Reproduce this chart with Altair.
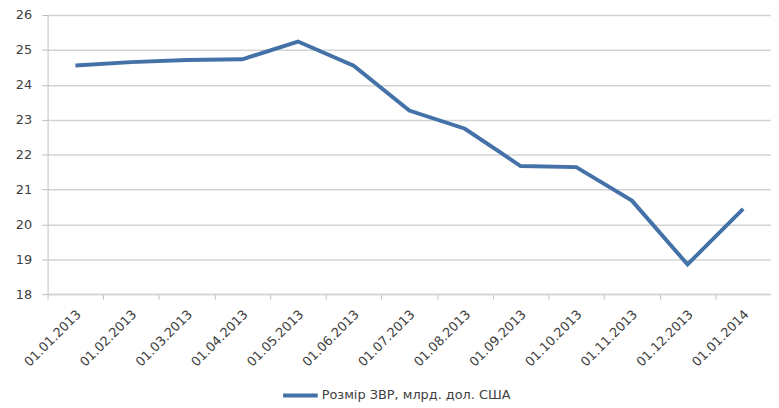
import altair as alt
import pandas as pd

dates = ["01.01.2013", "01.02.2013", "01.03.2013", "01.04.2013", "01.05.2013",
         "01.06.2013", "01.07.2013", "01.08.2013", "01.09.2013", "01.10.2013",
         "01.11.2013", "01.12.2013", "01.01.2014"]
values = [24.55, 24.65, 24.71, 24.73, 25.24, 24.55, 23.26, 22.74, 21.67, 21.64,
          20.68, 18.85, 20.44]
y_ticks = [18, 19, 20, 21, 22, 23, 24, 25, 26]
series_name = "Розмір ЗВР, млрд. дол. США"

df = pd.DataFrame({"date": dates, "value": values, "series": series_name})

FONT = "DejaVu Sans"
TXT = "#404040"

chart = alt.Chart(df).mark_line(strokeWidth=4, strokeJoin="miter").encode(
    x=alt.X("date:N", sort=dates, title=None,
            scale=alt.Scale(type="band", paddingInner=0, paddingOuter=0),
            axis=alt.Axis(labelAngle=-45, labelAlign="right", labelBaseline="middle",
                          labelPadding=13, labelFontSize=13, labelColor=TXT, labelFont=FONT,
                          labelOffset=3,
                          tickBand="extent", tickSize=5, tickColor="#BFBFBF",
                          domainColor="#D4D4D4", domainWidth=1.5, grid=False,
                          labelOverlap=False)),
    y=alt.Y("value:Q", title=None,
            scale=alt.Scale(domain=[18, 26], nice=False, zero=False),
            axis=alt.Axis(values=y_ticks, labelFontSize=13, labelOverlap=False,
                          labelColor=TXT, labelFont=FONT, labelPadding=10, tickSize=6,
                          tickColor="#BFBFBF", domainColor="#BFBFBF", domainWidth=1,
                          gridColor="#D4D4D4", gridWidth=1.5)),
    color=alt.Color("series:N", title=None,
                    scale=alt.Scale(range=["#4472A8"]),
                    legend=alt.Legend(orient="none", legendX=236, legendY=365,
                                      symbolType="stroke", symbolSize=1225,
                                      symbolStrokeWidth=4, labelFontSize=13,
                                      labelColor=TXT, labelFont=FONT, labelOffset=2,
                                      labelLimit=400, padding=0)),
).properties(
    width=731, height=282,
    autosize=alt.AutoSizeParams(type="none"),
    padding={"left": 40, "top": 5, "right": 0, "bottom": 111},
).configure_view(stroke=None)

chart.save("out.html", embed_options={"renderer": "svg", "actions": False})
